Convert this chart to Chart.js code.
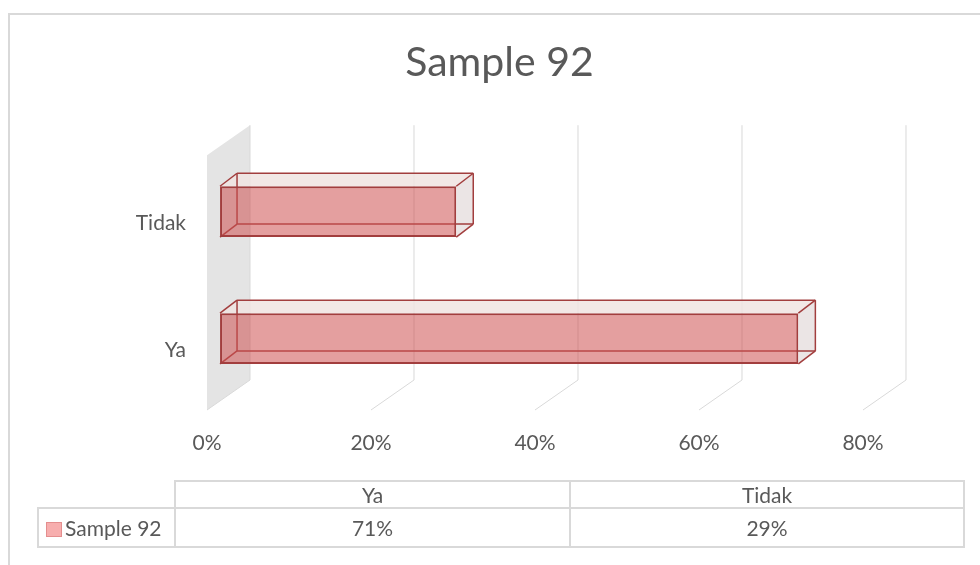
<!DOCTYPE html>
<html lang="id">
<head>
    <meta charset="UTF-8">
    <title>Sample 92</title>
    <script src="https://cdn.jsdelivr.net/npm/chart.js"></script>
    <style>
        body {
            margin: 0;
            background: #fff;
        }
        #wrap {
            position: relative;
            width: 980px;
            height: 565px;
            overflow: hidden;
        }
        #frame {
            position: absolute;
            left: 8px;
            top: 13px;
            width: 1000px;
            height: 600px;
            border: 2px solid #D9D9D9;
            box-sizing: border-box;
        }
        #myChart {
            position: absolute;
            left: 0;
            top: 0;
        }
        #dataTable {
            position: absolute;
            left: 37px;
            top: 480px;
            border-collapse: collapse;
            font-family: Lato, sans-serif;
            font-size: 21px;
            color: #595959;
            table-layout: fixed;
        }
        #dataTable td {
            border: 2px solid #D9D9D9;
            text-align: center;
            padding: 0;
            white-space: nowrap;
        }
        #dataTable tr.head td { height: 25px; }
        #dataTable tr.row td { height: 37px; }
        #dataTable td.blank {
            border-top: none;
            border-left: none;
        }
        #dataTable td.legend {
            text-align: left;
            padding-left: 7px;
        }
        .swatch {
            display: inline-block;
            width: 14px;
            height: 13px;
            background: #F7AEAE;
            border: 1px solid #E48E8E;
            margin-right: 3px;
            vertical-align: -1px;
        }
    </style>
</head>
<body>
<div id="wrap">
    <div id="frame"></div>
    <canvas id="myChart" width="980" height="565"></canvas>
    <table id="dataTable">
        <colgroup>
            <col style="width:137px">
            <col style="width:395px">
            <col style="width:394px">
        </colgroup>
        <tbody></tbody>
    </table>
</div>

<script>
    // данные
    const titleText = 'Sample 92';
    const seriesName = 'Sample 92';
    const categories = ['Ya', 'Tidak'];
    const values = [71, 29];
    const tickValues = [0, 20, 40, 60, 80];

    const textColor = '#595959';
    const edgeColor = '#A23E3E';

    // таблица данных под графиком
    const tbody = document.querySelector('#dataTable tbody');
    let html = '<tr class="head"><td class="blank"></td>';
    categories.forEach(c => { html += `<td>${c}</td>`; });
    html += '</tr><tr class="row"><td class="legend"><span class="swatch"></span>' + seriesName + '</td>';
    values.forEach(v => { html += `<td>${v}%</td>`; });
    html += '</tr>';
    tbody.innerHTML = html;

    // псевдо-3D: стенка, сетка и грани столбцов
    const wall = { dx: 43, dy: -30 };
    const box = { dx: 17, dy: -13 };

    function poly(ctx, pts, fill) {
        ctx.beginPath();
        ctx.moveTo(pts[0][0], pts[0][1]);
        for (let i = 1; i < pts.length; i++) ctx.lineTo(pts[i][0], pts[i][1]);
        ctx.closePath();
        ctx.fillStyle = fill;
        ctx.fill();
    }

    function seg(ctx, a, b) {
        ctx.beginPath();
        ctx.moveTo(a[0], a[1]);
        ctx.lineTo(b[0], b[1]);
        ctx.stroke();
    }

    const depthPlugin = {
        id: 'depth',
        beforeDatasetsDraw(chart) {
            const ctx = chart.ctx;
            const ca = chart.chartArea;
            const xs = chart.scales.x;
            const ft = ca.top + 7;
            const fb = ca.bottom + 8;
            ctx.save();

            // левая стенка
            const x0 = xs.getPixelForValue(0);
            poly(ctx, [[x0, ft], [x0 + wall.dx, ft + wall.dy], [x0 + wall.dx, fb + wall.dy], [x0, fb]], '#E4E4E4');

            // линии сетки на задней стенке и на полу
            ctx.strokeStyle = '#D9D9D9';
            ctx.lineWidth = 1;
            tickValues.forEach(v => {
                const xf = xs.getPixelForValue(v);
                const xb = xf + wall.dx;
                ctx.beginPath();
                ctx.moveTo(xb, ft + wall.dy);
                ctx.lineTo(xb, fb + wall.dy);
                ctx.lineTo(xf, fb);
                ctx.stroke();
            });

            // верхняя и правая грани столбцов
            const meta = chart.getDatasetMeta(0);
            meta.data.forEach(bar => {
                const p = bar.getProps(['x', 'y', 'base', 'height'], true);
                const l = p.base, r = p.x;
                const t = p.y - p.height / 2, b = p.y + p.height / 2;
                const dx = box.dx, dy = box.dy;

                poly(ctx, [[l, t], [l + dx, t + dy], [r + dx, t + dy], [r, t]], 'rgba(240,228,226,0.85)');
                poly(ctx, [[r, t], [r + dx, t + dy], [r + dx, b + dy], [r, b]], 'rgba(232,225,225,0.85)');

                ctx.strokeStyle = edgeColor;
                ctx.lineWidth = 1.5;
                seg(ctx, [l + dx, t + dy], [r + dx, t + dy]);
                seg(ctx, [l, t], [l + dx, t + dy]);
                seg(ctx, [r, t], [r + dx, t + dy]);
                seg(ctx, [r + dx, t + dy], [r + dx, b + dy]);
                seg(ctx, [r, b], [r + dx, b + dy]);
                seg(ctx, [l + dx, t + dy], [l + dx, b + dy]);
                seg(ctx, [l + dx, b + dy], [r + dx, b + dy]);
                seg(ctx, [l, b], [l + dx, b + dy]);
            });
            ctx.restore();
        }
    };

    const ctx = document.getElementById('myChart').getContext('2d');
    new Chart(ctx, {
        type: 'bar',
        data: {
            labels: categories,
            datasets: [{
                label: seriesName,
                data: values,
                xAxisID: 'xf',
                backgroundColor: 'rgba(205,80,80,0.55)',
                borderColor: edgeColor,
                borderWidth: 2,
                borderSkipped: false,
                barPercentage: 0.4,
                categoryPercentage: 1.0
            }]
        },
        options: {
            indexAxis: 'y',
            responsive: false,
            animation: false,
            layout: {
                padding: { left: 19, right: 0, top: 0, bottom: 103 }
            },
            scales: {
                // подписи оси на переднем крае пола
                x: {
                    position: 'bottom',
                    min: 0,
                    max: 94.27,
                    afterBuildTicks: scale => {
                        scale.ticks = tickValues.map(v => ({ value: v }));
                    },
                    afterFit: scale => { scale.height = 60; },
                    grid: { display: false },
                    border: { display: false },
                    ticks: {
                        padding: 21,
                        color: textColor,
                        font: { family: 'Lato', size: 21 },
                        maxRotation: 0,
                        callback: v => v + '%'
                    }
                },
                // передняя плоскость столбцов
                xf: {
                    type: 'linear',
                    position: 'bottom',
                    display: false,
                    min: -1.6,
                    max: 93.3
                },
                y: {
                    reverse: true,
                    afterFit: scale => { scale.width = 188; },
                    grid: { display: false },
                    border: { display: false },
                    ticks: {
                        padding: 13,
                        labelOffset: 12,
                        color: textColor,
                        font: { family: 'Lato', size: 21 }
                    }
                }
            },
            plugins: {
                legend: { display: false },
                tooltip: { enabled: false },
                title: {
                    display: true,
                    text: titleText,
                    color: textColor,
                    font: { family: 'Lato', size: 41, weight: 'normal' },
                    padding: { top: 38, bottom: 61 }
                }
            }
        },
        plugins: [depthPlugin]
    });
</script>
</body>
</html>
